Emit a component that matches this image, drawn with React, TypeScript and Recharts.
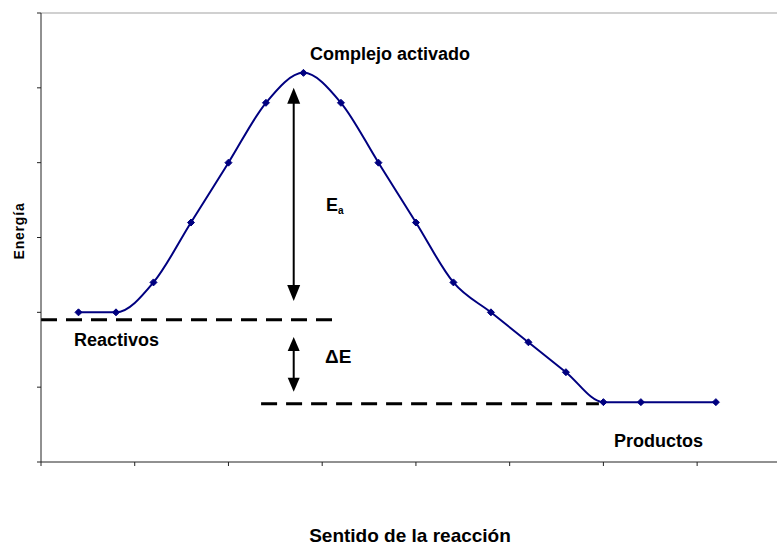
import { LineChart, Line, XAxis, YAxis, ReferenceLine } from 'recharts';

// reaction coordinate (x) and energy (y) of the plotted points
const steps = [1, 2, 3, 4, 5, 6, 7, 8, 9, 10, 11, 12, 13, 14, 15, 16, 18];
const energy = [2, 2, 2.4, 3.2, 4, 4.8, 5.2, 4.8, 4, 3.2, 2.4, 2, 1.6, 1.2, 0.8, 0.8, 0.8];

const xTicks = [0, 2.5, 5, 7.5, 10, 12.5, 15, 17.5];
const yTicks = [0, 1, 2, 3, 4, 5, 6];
const xMax = 19.63;
const yMax = 6;

// annotation levels, in data units
const reactantLevel = 1.9;
const productLevel = 0.78;
const reactantSpan = [0, 7.82];
const productSpan = [5.87, 14.88];
const arrowX = 6.74;
const eaArrow = [5.0, 2.15];
const deltaArrow = [1.67, 0.94];

const data = steps.map((x, i) => ({ x, energy: energy[i] }));

const FONT = '"Liberation Sans", Arial, sans-serif';
const NAVY = '#000080';

function Diamond(props: any) {
  const { cx, cy, index } = props;
  const r = 3.5;
  return (
    <polygon
      key={`d-${index}`}
      points={`${cx},${cy - r} ${cx + r},${cy} ${cx},${cy + r} ${cx - r},${cy}`}
      fill={NAVY}
      stroke={NAVY}
    />
  );
}

// vertical double headed arrow drawn over a reference segment
const arrowShape = (headLen: number, headHalf: number) => (props: any) => {
  const { x1, y1, y2 } = props;
  const top = Math.min(y1, y2);
  const bottom = Math.max(y1, y2);
  return (
    <g>
      <line x1={x1} y1={top + headLen - 1} x2={x1} y2={bottom - headLen + 1} stroke="#000" strokeWidth={2} />
      <polygon points={`${x1},${top} ${x1 + headHalf},${top + headLen} ${x1 - headHalf},${top + headLen}`} fill="#000" />
      <polygon points={`${x1},${bottom} ${x1 + headHalf},${bottom - headLen} ${x1 - headHalf},${bottom - headLen}`} fill="#000" />
    </g>
  );
};

const textStyle = { fontFamily: FONT, fontWeight: 700, fontSize: 18, fill: '#000' };

export default function App() {
  return (
    <div style={{ position: 'absolute', left: 0, top: 0, width: 777, height: 545, background: '#fff' }}>
      <LineChart width={777} height={545} data={data} margin={{ top: 13, right: 0, bottom: 53, left: 0 }}>
        <XAxis
          type="number"
          dataKey="x"
          domain={[0, xMax]}
          ticks={xTicks}
          allowDataOverflow
          tickFormatter={() => ''}
          tickSize={4}
          height={30}
          axisLine={{ stroke: '#222' }}
          tickLine={{ stroke: '#222' }}
        />
        <YAxis
          type="number"
          domain={[0, yMax]}
          ticks={yTicks}
          tickFormatter={() => ''}
          tickSize={4}
          width={41}
          axisLine={{ stroke: '#222' }}
          tickLine={{ stroke: '#222' }}
        />
        {/* light plot-area border along the top */}
        <ReferenceLine
          segment={[{ x: 0, y: yMax }, { x: xMax, y: yMax }]}
          stroke="#d0d0d0"
          strokeWidth={2}
          ifOverflow="visible"
        />
        <ReferenceLine
          segment={[{ x: reactantSpan[0], y: reactantLevel }, { x: reactantSpan[1], y: reactantLevel }]}
          stroke="#000"
          strokeWidth={3}
          strokeDasharray="16 9"
        />
        <ReferenceLine
          segment={[{ x: productSpan[0], y: productLevel }, { x: productSpan[1], y: productLevel }]}
          stroke="#000"
          strokeWidth={3}
          strokeDasharray="16 9"
        />
        <ReferenceLine
          segment={[{ x: arrowX, y: eaArrow[0] }, { x: arrowX, y: eaArrow[1] }]}
          shape={arrowShape(16, 6.5)}
        />
        <ReferenceLine
          segment={[{ x: arrowX, y: deltaArrow[0] }, { x: arrowX, y: deltaArrow[1] }]}
          shape={arrowShape(14, 6)}
        />
        <Line
          type="monotone"
          dataKey="energy"
          stroke={NAVY}
          strokeWidth={2}
          dot={Diamond}
          activeDot={false}
          isAnimationActive={false}
        />
      </LineChart>
      <svg width={777} height={545} style={{ position: 'absolute', left: 0, top: 0, pointerEvents: 'none' }}>
        <text x={310} y={60} {...textStyle}>Complejo activado</text>
        <text x={326} y={211} {...textStyle}>
          E<tspan fontSize={10} dy={3}>a</tspan>
        </text>
        <text x={325} y={363} {...textStyle} fontSize={19}>ΔE</text>
        <text x={74} y={346} {...textStyle}>Reactivos</text>
        <text x={614} y={447} {...textStyle}>Productos</text>
        <text
          x={19}
          y={231}
          transform="rotate(-90 19 231)"
          textAnchor="middle"
          dominantBaseline="central"
          {...textStyle}
          fontSize={14}
          letterSpacing={0.8}
        >
          Energía
        </text>
        <text x={410} y={542} textAnchor="middle" {...textStyle} fontSize={19}>Sentido de la reacción</text>
      </svg>
    </div>
  );
}
